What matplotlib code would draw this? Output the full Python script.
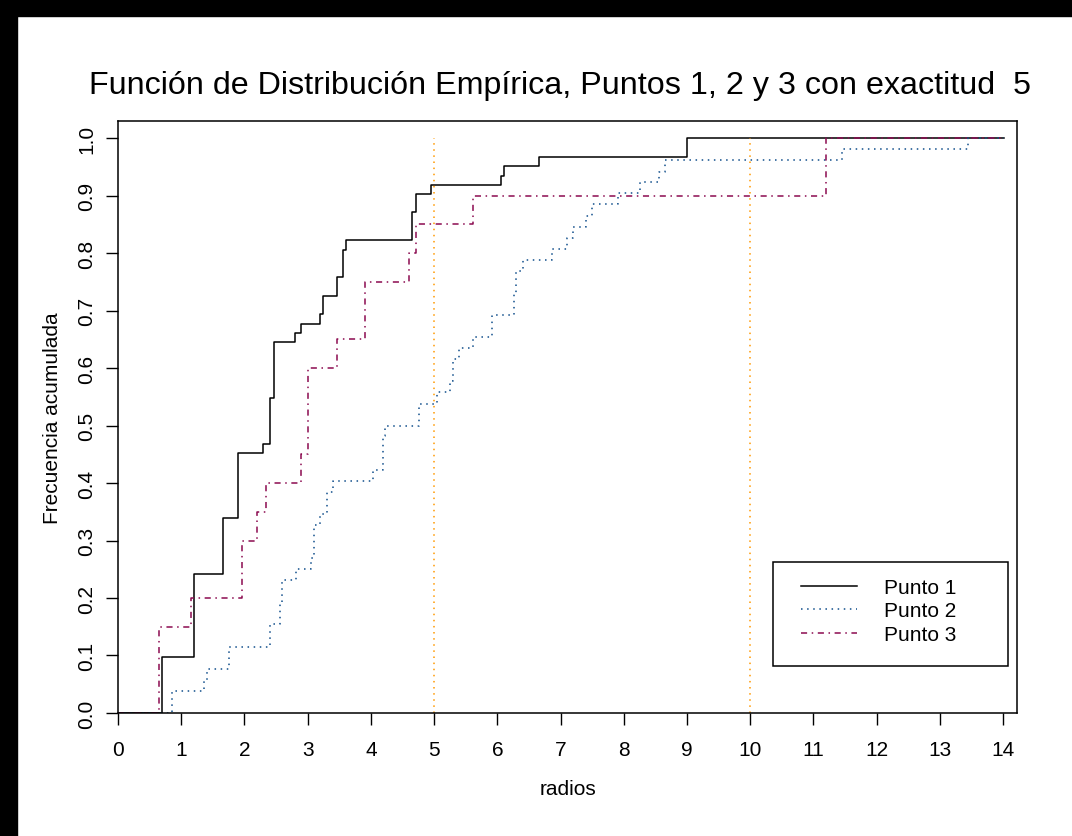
import numpy as np
import matplotlib.pyplot as plt
from matplotlib.patches import Rectangle

plt.rcParams['font.family'] = ['Liberation Sans', 'DejaVu Sans']

# saltos (radio) y frecuencia acumulada tras cada salto
p1_x = [0.70, 1.205, 1.66, 1.90, 2.30, 2.41, 2.46, 2.80, 2.90, 3.20, 3.25,
        3.46, 3.56, 3.60, 4.65, 4.71, 4.95, 6.06, 6.11, 6.66, 9.00]
p1_y = [0.097, 0.242, 0.339, 0.452, 0.468, 0.548, 0.645, 0.661, 0.677, 0.694,
        0.726, 0.758, 0.806, 0.823, 0.871, 0.903, 0.919, 0.935, 0.952, 0.968, 1.0]

p2_x = [0.854, 1.365, 1.40, 1.755, 2.41, 2.56, 2.60, 2.81, 3.06, 3.10, 3.20,
        3.30, 3.40, 4.03, 4.19, 4.22, 4.76, 5.04, 5.25, 5.30, 5.40, 5.61, 5.91,
        6.26, 6.30, 6.40, 6.86, 7.10, 7.20, 7.40, 7.50, 7.91, 8.25, 8.56, 8.65,
        11.45, 13.45]
p2_y = [0.038, 0.058, 0.077, 0.115, 0.154, 0.192, 0.231, 0.250, 0.269, 0.327,
        0.346, 0.385, 0.404, 0.423, 0.481, 0.500, 0.538, 0.558, 0.577, 0.615,
        0.635, 0.654, 0.692, 0.731, 0.769, 0.788, 0.808, 0.827, 0.846, 0.865,
        0.885, 0.904, 0.923, 0.942, 0.962, 0.981, 1.0]

p3_x = [0.65, 1.155, 1.96, 2.20, 2.345, 2.90, 3.00, 3.46, 3.905, 4.61, 4.71,
        5.61, 11.20]
p3_y = [0.15, 0.20, 0.30, 0.35, 0.40, 0.45, 0.60, 0.65, 0.75, 0.80, 0.85,
        0.90, 1.0]

x_ini, x_fin = 0.0, 14.02
cortes = [5, 10]
etiquetas = ['Punto 1', 'Punto 2', 'Punto 3']


def escalon(xs, ys):
    return [x_ini] + xs + [x_fin], [0.0] + ys + [ys[-1]]


fig = plt.figure(figsize=(10.72, 8.37), dpi=100)
ax = fig.add_axes([0.1101, 0.1470, 0.8386, 0.7073])

x, y = escalon(p1_x, p1_y)
l1, = ax.step(x, y, where='post', color='black', lw=1.1, label=etiquetas[0])
x, y = escalon(p2_x, p2_y)
l2, = ax.step(x, y, where='post', color='#104E8B', lw=1.1,
              linestyle=(0, (1, 3)), label=etiquetas[1])
x, y = escalon(p3_x, p3_y)
l3, = ax.step(x, y, where='post', color='#8B0A50', lw=1.1,
              linestyle=(0, (4, 3, 1, 3)), label=etiquetas[2])

for c in cortes:
    ax.plot([c, c], [0, 1], color='#FF9900', lw=1.1, linestyle=(0, (1, 3)))

ax.set_xlim(0, 14.22)
ax.set_ylim(0, 1.03)
ax.set_xticks(np.arange(0, 15, 1))
ax.set_yticks(np.arange(0, 1.01, 0.1))
ax.set_yticklabels(['%.1f' % v for v in np.arange(0, 1.01, 0.1)])
ax.tick_params(axis='both', direction='out', length=8.6, width=1, labelsize=15)
ax.tick_params(axis='x', pad=11)
ax.tick_params(axis='y', pad=7)
for lab in ax.get_yticklabels():
    lab.set_rotation(90)
    lab.set_va('center')
for s in ax.spines.values():
    s.set_linewidth(1.1)
    s.set_color('black')

ax.set_xlabel('radios', fontsize=15)
ax.set_ylabel('Frecuencia acumulada', fontsize=15)
ax.xaxis.set_label_coords(0.5, -0.111)
ax.yaxis.set_label_coords(-0.0623, 0.5)

# leyenda con marco como en R
ax.add_patch(Rectangle((0.7286, 0.0794), 0.2614, 0.1757, transform=ax.transAxes,
                       facecolor='white', edgecolor='black', lw=1.1, zorder=5))
leg = ax.legend(handles=[l1, l2, l3], loc='center left', frameon=False,
                bbox_to_anchor=(0.7597, 0.1723), borderpad=0, borderaxespad=0,
                fontsize=15, handlelength=2.7, handletextpad=1.3, labelspacing=0.22)
leg.set_zorder(6)

fig.text(0.5224, 0.897, 'Función de Distribución Empírica, Puntos 1, 2 y 3 con exactitud  5',
         ha='center', va='center', fontsize=23.2)

# marco negro arriba y a la izquierda
fig.patches.append(Rectangle((0, 1 - 17 / 837), 1, 17 / 837, transform=fig.transFigure,
                             color='black'))
fig.patches.append(Rectangle((0, 0), 17 / 1072, 1, transform=fig.transFigure,
                             color='black'))

fig.savefig('out.png', dpi=100)
